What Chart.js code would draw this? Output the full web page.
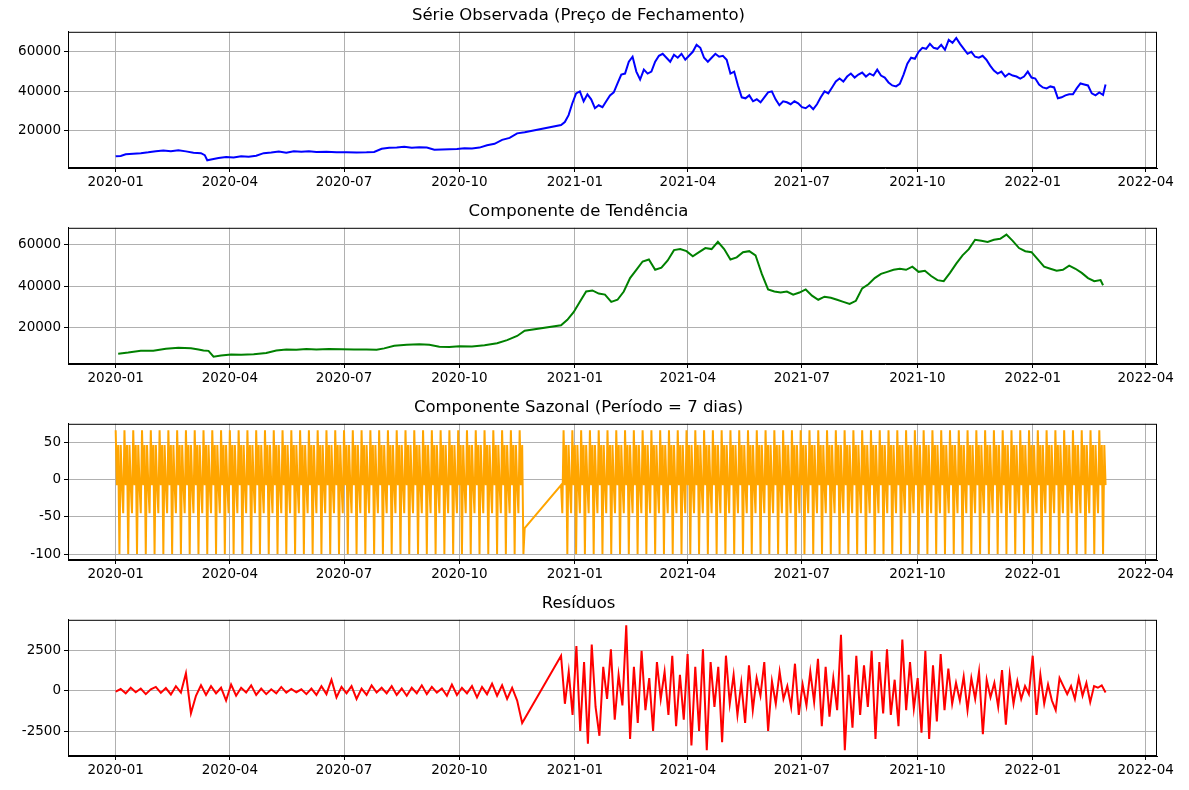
<!DOCTYPE html>
<html>
<head>
<meta charset="utf-8">
<script src="https://cdn.jsdelivr.net/npm/chart.js@4.4.0/dist/chart.umd.min.js"></script>
<style>
  body { margin: 0; background: #fff; }
  .panel { position: absolute; left: 0; width: 1189px; height: 196px; }
</style>
</head>
<body>
<div class="panel" style="top:0"><canvas id="c1"></canvas></div>
<div class="panel" style="top:196px"><canvas id="c2"></canvas></div>
<div class="panel" style="top:392px"><canvas id="c3"></canvas></div>
<div class="panel" style="top:588px"><canvas id="c4"></canvas></div>
<script>
// x = days since 2020-01-01
var monthTicks = [0, 91, 182, 274, 366, 456, 547, 639, 731, 821];
var monthLabels = ["2020-01", "2020-04", "2020-07", "2020-10", "2021-01", "2021-04", "2021-07", "2021-10", "2022-01", "2022-04"];

// Observed close price
var obsDays = [0,4,8,14,20,26,32,38,44,50,56,62,68,71,73,76,82,88,94,100,106,112,118,124,130,136,142,148,154,160,168,176,184,192,200,206,212,218,224,230,236,242,248,254,260,266,272,278,284,290,296,302,308,314,320,326,
  355,358,361,364,367,370,373,376,379,382,385,388,391,394,397,400,403,406,409,412,415,418,421,424,427,430,433,436,439,442,445,448,451,454,457,460,463,466,469,472,475,478,481,484,487,490,493,496,499,502,505,508,511,514,517,520,523,526,529,532,535,538,541,544,547,550,553,556,559,562,565,568,571,574,577,580,583,586,589,592,595,598,601,604,607,610,613,616,619,622,625,628,631,634,637,640,643,646,649,652,655,658,661,664,667,670,673,676,679,682,685,688,691,694,697,700,703,706,709,712,715,718,721,724,727,730,733,736,739,742,745,748,751,754,757,760,763,766,769,772,775,778,781,784,787,789];
var obsVals = [7200,7400,8200,8500,8800,9200,9800,10200,9800,10300,9700,9000,8800,7800,5200,5600,6400,6800,6600,7200,7000,7500,8800,9100,9600,9000,9800,9500,9700,9400,9500,9200,9300,9100,9200,9400,11000,11500,11700,12000,11500,11800,11600,10500,10700,10800,10900,11300,11200,11600,12800,13500,15500,16500,18800,19400,
  23000,24500,28000,34000,39000,40000,35000,38500,36000,31500,33000,32000,35000,38000,39500,44000,48500,49000,55000,57500,50000,46000,51000,49000,50000,55000,58000,59000,57000,55000,58500,57000,59000,56000,58000,60000,63500,62000,57000,55000,57000,59000,57500,58000,56000,49000,50000,43000,37000,36500,38000,35000,36000,34500,37000,39500,40000,36000,33000,35000,34500,33500,35000,34000,32000,31500,33000,31000,33500,37000,40000,39000,42000,45000,46500,45000,47500,49000,47000,48500,49500,47500,49000,48000,51000,48000,47000,44500,43000,42500,43800,48500,54000,57000,56500,60000,62000,61500,64000,62000,61500,63500,61000,66000,64500,67000,64000,61500,59000,60000,57500,57000,58000,56000,53000,50500,49000,50000,47500,49000,48000,47500,46500,47500,50000,47000,46500,43500,42000,41500,42500,42000,36500,37000,38000,38500,38500,41500,44000,43500,43000,39000,38000,39500,38200,43500];

// Trend component
var trendDays = [2,10,20,30,40,50,60,66,70,74,78,84,92,100,110,120,128,136,144,152,160,170,180,190,200,208,214,222,232,242,250,258,266,274,284,294,304,312,320,326,
  355,360,365,370,375,380,385,390,395,400,405,410,415,420,425,430,435,440,445,450,455,460,465,470,475,480,485,490,495,500,505,510,515,520,525,530,535,540,545,550,555,560,565,570,575,580,585,590,595,600,605,610,615,620,625,630,635,640,645,650,655,660,665,670,675,680,685,690,695,700,705,710,715,720,725,730,735,740,745,750,755,760,765,770,775,780,785,787];
var trendVals = [7400,8000,8900,8800,9800,10300,10000,9500,9000,8800,6000,6500,7000,6900,7200,7800,9000,9400,9300,9700,9500,9700,9600,9400,9500,9300,10000,11300,11800,12000,11700,10800,10700,11000,10900,11500,12500,14000,16000,18500,
  21200,23800,27500,32500,37500,38000,36500,36000,32500,33500,37500,44000,48000,52000,53000,48000,49000,52500,57500,58000,57000,54500,56500,58500,58000,61500,58000,53000,54000,56500,57000,55000,46000,38500,37500,37000,37500,36000,37000,38500,35500,33500,35000,34500,33500,32500,31500,33000,39000,41000,44000,46000,47000,48000,48500,48000,49500,47000,47500,45000,43000,42500,46500,51000,55000,58000,62500,62000,61500,62500,63000,65000,62000,58500,57000,56500,53000,49500,48500,47500,48000,50000,48500,46500,44000,42500,43000,40500,37500,38500,40000,43000,43500,42000,39000,38500,39500];

// Seasonal component (period = 7 days)
var seasonPattern = [67, -7, 47, -100, 47, -7, -45];
var gapStart = 327, gapEnd = 355, lastDay = 789;

// Residuals
var resVals1 = [-50,120,-150,200,-80,150,-200,100,250,-120,180,-220,300,-100,1100,-1400,-300,350,-250,300,-150,200,-600,400,-300,200,-100,350,-250,150,-200,100,-150,250,-100,120,-80,100,-200,150,-250,300,-200,700,-400,250,-150,300,-500,150,-250,350,-100,200,-150,300,-250,150,-300,200,-150,350,-200,250,-100,150,-300,400,-250,200,-150,300,-400,250,-200,450,-300,350,-500,200,-600,-2000];
var resVals2 = [2200,-800,1200,-1500,2800,-2500,1800,-3300,2900,-1000,-2800,1500,-500,2600,-1800,1000,-900,4100,-3000,1500,-2000,2500,-1200,800,-2500,1800,-500,1200,-1500,2200,-2200,1000,-1800,2300,-3400,1500,-2500,2600,-3700,1800,-1000,1500,-3200,2200,-800,1000,-1500,500,-2000,1600,-1200,800,-300,1800,-2500,600,-800,1200,-500,300,-1000,1700,-1500,400,-900,1200,-700,2000,-2200,1500,-1600,800,-1200,3500,-3700,1000,-2300,2200,-1500,1600,-1000,2500,-3000,1800,-1400,2600,-1500,700,-2200,3200,-1200,1800,-1100,800,-2600,2500,-3000,1600,-1900,2300,-1200,1400,-800,500,-600,900,-1200,800,-500,1200,-2700,700,-400,500,-1000,1300,-2100,1000,-800,600,-500,300,-200,2200,-1500,1000,-800,400,-600,-1200,800,300,-200,300,-500,800,-300,500,-700,300,200,350,-100];
var resDays1 = resVals1.map(function (v, i) { return i * 4; });
var step2 = (lastDay - gapEnd) / (resVals2.length - 1);
var resDays2 = resVals2.map(function (v, i) { return gapEnd + i * step2; });

function pairs(days, vals) {
  return days.map(function (d, k) { return { x: d, y: vals[k] }; });
}

var seasonData = [];
for (var d = 0; d <= lastDay; d++) {
  if (d >= gapStart && d < gapEnd) continue;
  seasonData.push({ x: d, y: d === gapStart - 1 ? -65 : seasonPattern[d % 7] });
}

var gridColor = "#b0b0b0";
var font = { family: "DejaVu Sans", size: 13.5 };

// full box around the plot area, like matplotlib spines
var frame = {
  id: "frame",
  afterDraw: function (chart) {
    var a = chart.chartArea, c = chart.ctx;
    c.save();
    c.strokeStyle = "#000";
    c.lineWidth = 1;
    c.strokeRect(a.left + 0.5, a.top + 0.5, a.right - a.left - 1, a.bottom - a.top - 1);
    c.restore();
  }
};

function makePanel(id, title, color, data, yMin, yMax, yTicks) {
  new Chart(document.getElementById(id), {
    type: "line",
    data: { datasets: [{ data: data, borderColor: color, borderWidth: 2, pointRadius: 0, tension: 0 }] },
    options: {
      responsive: true,
      maintainAspectRatio: false,
      animation: false,
      layout: { padding: { left: 0, right: 32, top: 0, bottom: 0 } },
      plugins: {
        legend: { display: false },
        tooltip: { enabled: false },
        title: { display: true, text: title, color: "#000", font: { family: "DejaVu Sans", size: 16.5, weight: "normal" }, padding: { top: 6, bottom: 6 } }
      },
      scales: {
        x: {
          type: "linear", min: -38, max: 830,
          afterBuildTicks: function (ax) { ax.ticks = monthTicks.map(function (v) { return { value: v }; }); },
          afterFit: function (ax) { ax.height = 28; },
          ticks: { color: "#000", font: font, maxRotation: 0, autoSkip: false, padding: 2,
            callback: function (v) { var k = monthTicks.indexOf(v); return k >= 0 ? monthLabels[k] : ""; } },
          grid: { color: gridColor, tickColor: "#000", tickLength: 4 },
          border: { color: "#000" }
        },
        y: {
          min: yMin, max: yMax,
          afterBuildTicks: function (ax) { ax.ticks = yTicks.map(function (v) { return { value: v }; }); },
          afterFit: function (ax) { ax.width = 68; },
          ticks: { color: "#000", font: font, padding: 3, callback: function (v) { return String(v); } },
          grid: { color: gridColor, tickColor: "#000", tickLength: 4 },
          border: { color: "#000" }
        }
      }
    },
    plugins: [frame]
  });
}

makePanel("c1", "Série Observada (Preço de Fechamento)", "#0000ff", pairs(obsDays, obsVals), 1300, 70100, [20000, 40000, 60000]);
makePanel("c2", "Componente de Tendência", "#008000", pairs(trendDays, trendVals), 2440, 68300, [20000, 40000, 60000]);
makePanel("c3", "Componente Sazonal (Período = 7 dias)", "#ffa500", seasonData, -108, 75.7, [-100, -50, 0, 50]);
makePanel("c4", "Resíduos", "#ff0000", pairs(resDays1.concat(resDays2), resVals1.concat(resVals2)), -4060, 4440, [-2500, 0, 2500]);
</script>
</body>
</html>
